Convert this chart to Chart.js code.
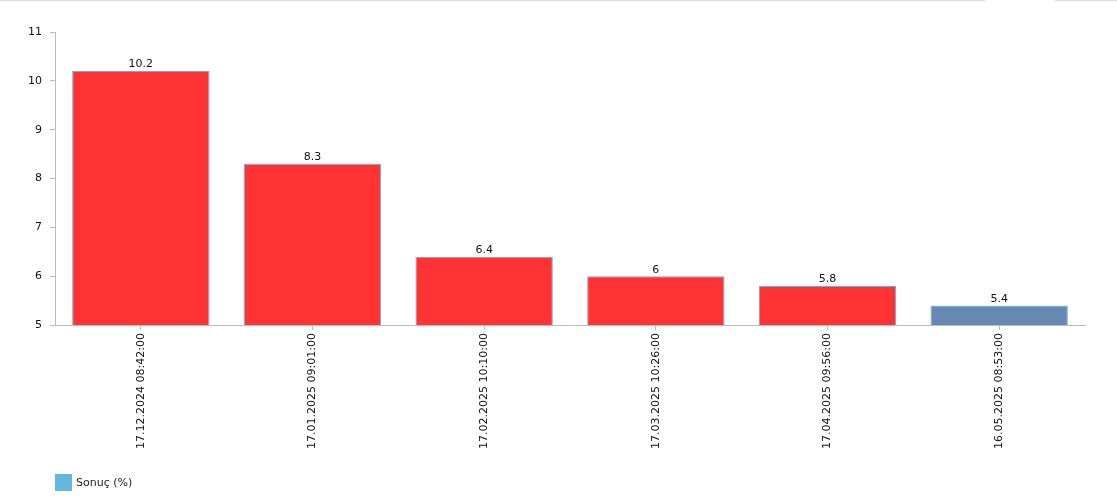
<!DOCTYPE html>
<html><head><meta charset="utf-8">
<script src="https://cdn.jsdelivr.net/npm/chart.js@4"></script>
<style>
html,body{margin:0;padding:0;background:#fff;}
#wrap{position:relative;width:1117px;height:501px;}
#c{position:absolute;left:0;top:0;}
.tl{position:absolute;top:0;height:1px;background:#d9d9d9;}
#leg{position:absolute;left:55px;top:474px;font:11px "DejaVu Sans",Verdana,sans-serif;color:#222;display:flex;align-items:center;}
#leg span.box{display:inline-block;width:17px;height:17px;background:#66B7DD;margin-right:4px;}
</style></head>
<body>
<div id="wrap">
<canvas id="c" width="1117" height="501"></canvas>
<div class="tl" style="left:0;width:985px"></div>
<div class="tl" style="left:1055px;width:62px"></div>
<div id="leg"><span class="box"></span><span>Sonuç (%)</span></div>
</div>
<script>
const categories = ["17.12.2024 08:42:00","17.01.2025 09:01:00","17.02.2025 10:10:00","17.03.2025 10:26:00","17.04.2025 09:56:00","16.05.2025 08:53:00"];
const values = [10.2, 8.3, 6.4, 6, 5.8, 5.4];
const barColors = ["#FF3333","#FF3333","#FF3333","#FF3333","#FF3333","#6689B3"];
const seriesName = "Sonuç (%)";

const FONT = '"DejaVu Sans", Verdana, sans-serif';

const valueLabels = {
  id:'valueLabels',
  afterDatasetsDraw(chart){
    const ctx = chart.ctx;
    const meta = chart.getDatasetMeta(0);
    ctx.save();
    ctx.font = '11px ' + FONT;
    ctx.fillStyle = '#111';
    ctx.textAlign = 'center';
    ctx.textBaseline = 'bottom';
    meta.data.forEach((bar,i)=>{
      ctx.fillText(String(values[i]), bar.x, bar.y - 1);
    });
    ctx.restore();
  }
};

new Chart(document.getElementById('c'), {
  type:'bar',
  data:{
    labels:categories,
    datasets:[{
      label:seriesName,
      data:values,
      backgroundColor:barColors,
      borderColor:'#5AB4E0',
      borderWidth:1,
      categoryPercentage:0.8,
      barPercentage:1.0
    }]
  },
  options:{
    responsive:false,
    animation:false,
    devicePixelRatio:1,
    layout:{padding:{top:32,right:32,left:0,bottom:0}},
    plugins:{legend:{display:false},tooltip:{enabled:false}},
    scales:{
      x:{
        grid:{drawOnChartArea:false,offset:false,color:'#bbb',tickLength:5},
        border:{color:'#bbb'},
        ticks:{minRotation:90,maxRotation:90,color:'#111',font:{family:FONT,size:11},padding:3},
        afterFit(s){ s.height = 176; }
      },
      y:{
        min:5,max:11,
        z:1,
        grid:{color:'rgba(255,255,255,0.25)',tickColor:'#bbb',tickLength:5},
        border:{color:'#bbb'},
        ticks:{stepSize:1,color:'#111',font:{family:FONT,size:11},padding:8},
        afterFit(s){ s.width = 55; }
      }
    }
  },
  plugins:[valueLabels]
});
</script>
</body></html>
